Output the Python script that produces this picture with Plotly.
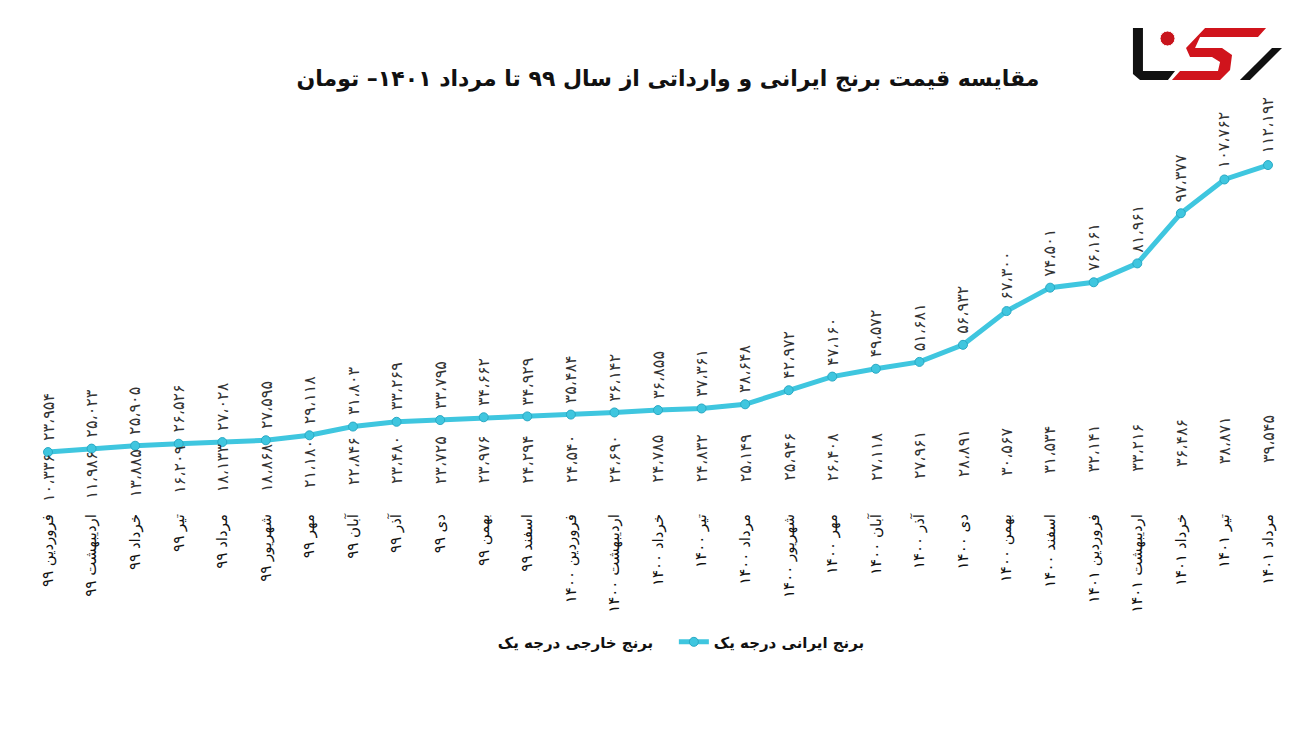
import plotly.graph_objects as go

months = ["فروردین", "اردیبهشت", "خرداد", "تیر", "مرداد", "شهریور", "مهر", "آبان", "آذر", "دی", "بهمن", "اسفند"]
years = ["۹۹"] * 12 + ["۱۴۰۰"] * 12 + ["۱۴۰۱"] * 5
categories = [f"{months[i % 12]}\u00a0{years[i]}" for i in range(29)]

iranian = [23954, 25023, 25905, 26526, 27028, 27595, 29118, 31803, 33269, 33795, 34662, 34929,
           35484, 36142, 36855, 37361, 38648, 42972, 47160, 49572, 51681, 56932, 67300, 74501,
           76161, 81961, 97377, 107762, 112192]
imported = [10336, 11986, 13885, 16209, 18133, 18868, 21180, 22846, 23480, 23725, 23976, 24294,
            24540, 24690, 24785, 24832, 25149, 25946, 26408, 27118, 27961, 28891, 30567, 31534,
            32141, 33216, 36486, 38871, 39545]

name_ir = "برنج ایرانی درجه یک"
name_im = "برنج خارجی درجه یک"
title = "مقایسه قیمت برنج ایرانی و وارداتی از سال ۹۹ تا مرداد ۱۴۰۱– تومان"

FA = str.maketrans("0123456789,", "۰۱۲۳۴۵۶۷۸۹،")


def fa(v):
    return f"{v:,}".translate(FA)


FONT = "DejaVu Sans"
CYAN = "#3fc6df"

fig = go.Figure()
fig.add_trace(go.Scatter(
    x=categories, y=iranian, name="<b>" + name_ir + "</b>", mode="lines+markers",
    line=dict(color=CYAN, width=5),
    marker=dict(size=9, color=CYAN, line=dict(color="#2aa9c4", width=1)),
    cliponaxis=False,
))
fig.add_trace(go.Scatter(
    x=categories, y=imported, name="<b>" + name_im + "</b>", mode="lines", yaxis="y2",
    line=dict(color="rgba(0,0,0,0)", width=3),
    cliponaxis=False,
))

ann = []
for c, v in zip(categories, iranian):
    ann.append(dict(x=c, y=v, xref="x", yref="y", text=fa(v), textangle=-90,
                    showarrow=False, yanchor="bottom", yshift=9,
                    font=dict(family=FONT, size=16, color="#333333")))
for c, v in zip(categories, imported):
    ann.append(dict(x=c, y=v, xref="x", yref="y2", text=fa(v), textangle=-90,
                    showarrow=False, yanchor="top", yshift=0,
                    font=dict(family=FONT, size=16, color="#333333")))


def px2paper(x, y):
    return ((x - 48) / 1220.0, (510.0 - y) / 370.0)


def path(points):
    s = ""
    for i, (x, y) in enumerate(points):
        px, py = px2paper(x, y)
        s += ("M" if i == 0 else "L") + f"{px:.4f},{py:.4f} "
    return s + "Z"


shapes = [
    dict(type="path", xref="paper", yref="paper", fillcolor="#111111", line=dict(width=0),
         path=path([(1133, 28), (1143, 28), (1143, 71), (1175, 71), (1168, 80), (1140, 80), (1133, 74)])),
    dict(type="path", xref="paper", yref="paper", fillcolor="#d0141c", line=dict(width=0),
         path=path([(1205, 28), (1266, 28), (1258, 37), (1200, 37), (1195, 48), (1222, 48),
                    (1232, 55), (1230, 70), (1220, 80), (1172, 80), (1180, 71), (1218, 71),
                    (1220, 62), (1212, 57), (1190, 57), (1186, 48)])),
    dict(type="path", xref="paper", yref="paper", fillcolor="#111111", line=dict(width=0),
         path=path([(1272, 48), (1282, 48), (1250, 80), (1240, 80)])),
    dict(type="circle", xref="paper", yref="paper", fillcolor="#c8141c", line=dict(color="#ffffff", width=1),
         x0=px2paper(1160, 0)[0], x1=px2paper(1175, 0)[0],
         y0=px2paper(0, 46)[1], y1=px2paper(0, 31)[1]),
]

fig.update_layout(
    width=1284, height=715,
    paper_bgcolor="white", plot_bgcolor="white",
    margin=dict(l=40, r=24, t=132, b=213),
    font=dict(family=FONT, size=13, color="#111111"),
    title=dict(text="<b>" + title + "</b>", x=0.514, xanchor="center", y=0.902, yanchor="middle",
               font=dict(family=FONT, size=22, color="#111111")),
    xaxis=dict(type="category", range=[0, 28], showgrid=False, zeroline=False, showline=False,
               ticks="", tickangle=-90, tickfont=dict(family=FONT, size=15, color="#111111")),
    yaxis=dict(range=[6150, 119900], visible=False, showgrid=False, zeroline=False),
    yaxis2=dict(range=[-33110, 244044], overlaying="y", visible=False, showgrid=False, zeroline=False),
    showlegend=True,
    legend=dict(orientation="h", x=0.513, xanchor="center", y=-0.357, yanchor="middle",
                traceorder="reversed", entrywidth=171,
                font=dict(family=FONT, size=15, color="#111111")),
    annotations=ann,
    shapes=shapes,
)

fig.write_html("out.html")
